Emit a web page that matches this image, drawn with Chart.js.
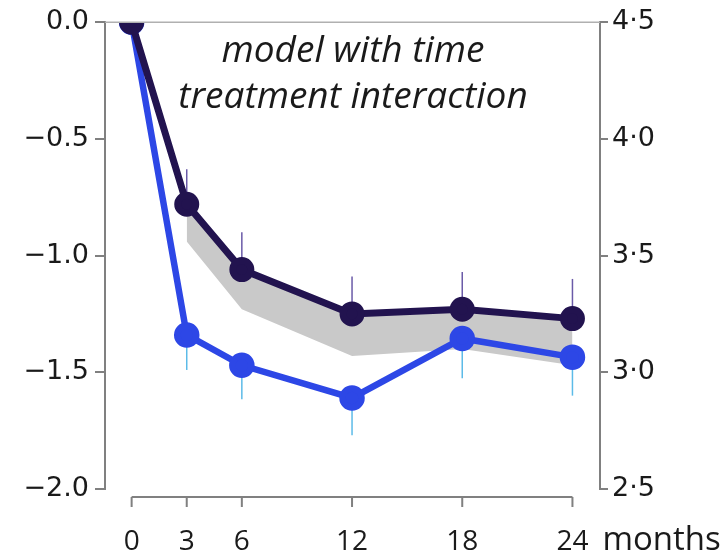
<!DOCTYPE html>
<html>
<head>
<meta charset="utf-8">
<script src="https://cdn.jsdelivr.net/npm/chart.js@4.4.1/dist/chart.umd.min.js"></script>
<style>
  html, body { margin: 0; padding: 0; background: #fff; }
  #wrap { width: 720px; height: 559px; }
</style>
</head>
<body>
<div id="wrap"><canvas id="chart"></canvas></div>
<script>
// values
var months = [0, 3, 6, 12, 18, 24];
var monthTicks = [0, 3, 6, 12, 18, 24];
var darkValues = [0, -0.78, -1.06, -1.25, -1.23, -1.27];
var blueValues = [0, -1.34, -1.47, -1.61, -1.355, -1.435];
var darkErrTop = [null, -0.63, -0.90, -1.09, -1.07, -1.10];
var blueErrBottom = [null, -1.49, -1.615, -1.77, -1.525, -1.60];
var bandMonths = [3, 6, 12, 18, 24];
var bandTop = [-0.78, -1.06, -1.25, -1.23, -1.27];
var bandBottom = [-0.94, -1.23, -1.43, -1.40, -1.47];
var leftTicks = [0, -0.5, -1.0, -1.5, -2.0];
var rightTicks = [4.5, 4.0, 3.5, 3.0, 2.5];
var titleLines = ["model with time", "treatment interaction"];

var axisColor = "#808080";
var darkColor = "#22134f";
var blueColor = "#2d47e6";

function pts(xs, ys) {
  return xs.map(function (x, i) { return { x: x, y: ys[i] }; });
}

// axes lines, error bars and the text inside the plot
var extras = {
  id: "extras",
  afterDatasetDraw: function (chart, args) {
    if (args.index !== 2) return;
    var ctx = chart.ctx, x = chart.scales.x, y = chart.scales.y;
    ctx.save();
    ctx.lineWidth = 1.5;
    for (var i = 0; i < months.length; i++) {
      if (darkErrTop[i] !== null) {
        ctx.strokeStyle = "#6a5aa8";
        ctx.beginPath();
        ctx.moveTo(x.getPixelForValue(months[i]), y.getPixelForValue(darkValues[i]));
        ctx.lineTo(x.getPixelForValue(months[i]), y.getPixelForValue(darkErrTop[i]));
        ctx.stroke();
      }
      if (blueErrBottom[i] !== null) {
        ctx.strokeStyle = "#5cbbe8";
        ctx.beginPath();
        ctx.moveTo(x.getPixelForValue(months[i]), y.getPixelForValue(blueValues[i]));
        ctx.lineTo(x.getPixelForValue(months[i]), y.getPixelForValue(blueErrBottom[i]));
        ctx.stroke();
      }
    }
    ctx.restore();
  },
  afterDraw: function (chart) {
    var ctx = chart.ctx, a = chart.chartArea, x = chart.scales.x;
    ctx.save();
    // top rule
    ctx.strokeStyle = "#b0b0b0";
    ctx.lineWidth = 1.5;
    ctx.beginPath();
    ctx.moveTo(a.left, a.top);
    ctx.lineTo(a.right, a.top);
    ctx.stroke();
    // month axis, drawn only over 0..24
    var yAxis = a.bottom + 8;
    ctx.strokeStyle = axisColor;
    ctx.lineWidth = 2;
    ctx.beginPath();
    ctx.moveTo(x.getPixelForValue(0), yAxis);
    ctx.lineTo(x.getPixelForValue(24), yAxis);
    monthTicks.forEach(function (m) {
      ctx.moveTo(x.getPixelForValue(m), yAxis);
      ctx.lineTo(x.getPixelForValue(m), yAxis + 10);
    });
    ctx.stroke();
    // unit label
    ctx.fillStyle = "#1a1a1a";
    ctx.font = "33px 'Open Sans'";
    ctx.textBaseline = "alphabetic";
    ctx.textAlign = "left";
    ctx.fillText("months", x.getPixelForValue(24) + 30, 550);
    // title inside the plot
    ctx.font = "italic 37px 'Open Sans'";
    ctx.textAlign = "center";
    ctx.fillText(titleLines[0], 353, 62);
    ctx.fillText(titleLines[1], 353, 108);
    ctx.restore();
  }
};

new Chart(document.getElementById("chart"), {
  type: "line",
  data: {
    datasets: [
      {
        label: "dark",
        data: pts(months, darkValues),
        borderColor: darkColor,
        backgroundColor: darkColor,
        borderWidth: 7,
        pointRadius: 9,
        pointHoverRadius: 9,
        tension: 0,
        fill: false,
      },
      {
        label: "blue",
        data: pts(months, blueValues),
        borderColor: blueColor,
        backgroundColor: blueColor,
        borderWidth: 6.5,
        pointRadius: 9.5,
        pointHoverRadius: 9.5,
        tension: 0,
        fill: false,
      },
      {
        label: "band top",
        data: pts(bandMonths, bandTop),
        borderWidth: 0,
        pointRadius: 0,
        fill: false,
      },
      {
        label: "band bottom",
        data: pts(bandMonths, bandBottom),
        borderWidth: 0,
        pointRadius: 0,
        backgroundColor: "#c9c9c9",
        fill: "-1",
      },
    ],
  },
  options: {
    responsive: true,
    maintainAspectRatio: false,
    animation: false,
    layout: { padding: { top: 20, left: 0, right: 0, bottom: 0 } },
    plugins: {
      legend: { display: false },
      tooltip: { enabled: false },
    },
    scales: {
      x: {
        type: "linear",
        min: -1.45,
        max: 25.5,
        afterBuildTicks: function (s) {
          s.ticks = monthTicks.map(function (v) { return { value: v }; });
        },
        afterFit: function (s) { s.height = 70; },
        border: { display: false },
        grid: { display: false, drawTicks: false },
        ticks: {
          padding: 36,
          color: "#1a1a1a",
          font: { size: 28, family: "Open Sans" },
          maxRotation: 0,
          autoSkip: false,
        },
      },
      y: {
        position: "left",
        min: -2,
        max: 0,
        afterBuildTicks: function (s) {
          s.ticks = leftTicks.map(function (v) { return { value: v }; });
        },
        afterFit: function (s) { s.width = 105; },
        border: { display: true, color: axisColor, width: 2 },
        grid: { drawOnChartArea: false, drawTicks: true, tickLength: 10, color: axisColor, lineWidth: 2 },
        ticks: {
          padding: 6,
          color: "#1a1a1a",
          font: { size: 27, family: "DejaVu Sans" },
          callback: function (v) {
            return (v < 0 ? "\u2212" : "") + Math.abs(v).toFixed(1);
          },
        },
      },
      y2: {
        position: "right",
        min: 2.5,
        max: 4.5,
        afterBuildTicks: function (s) {
          s.ticks = rightTicks.map(function (v) { return { value: v }; });
        },
        afterFit: function (s) { s.width = 120; },
        border: { display: true, color: axisColor, width: 2 },
        grid: { drawOnChartArea: false, drawTicks: true, tickLength: 8, color: axisColor, lineWidth: 2 },
        ticks: {
          padding: 4,
          color: "#1a1a1a",
          font: { size: 27, family: "DejaVu Sans" },
          callback: function (v) {
            return v.toFixed(1).replace(".", "\u00b7");
          },
        },
      },
    },
  },
  plugins: [extras],
});
</script>
</body>
</html>
